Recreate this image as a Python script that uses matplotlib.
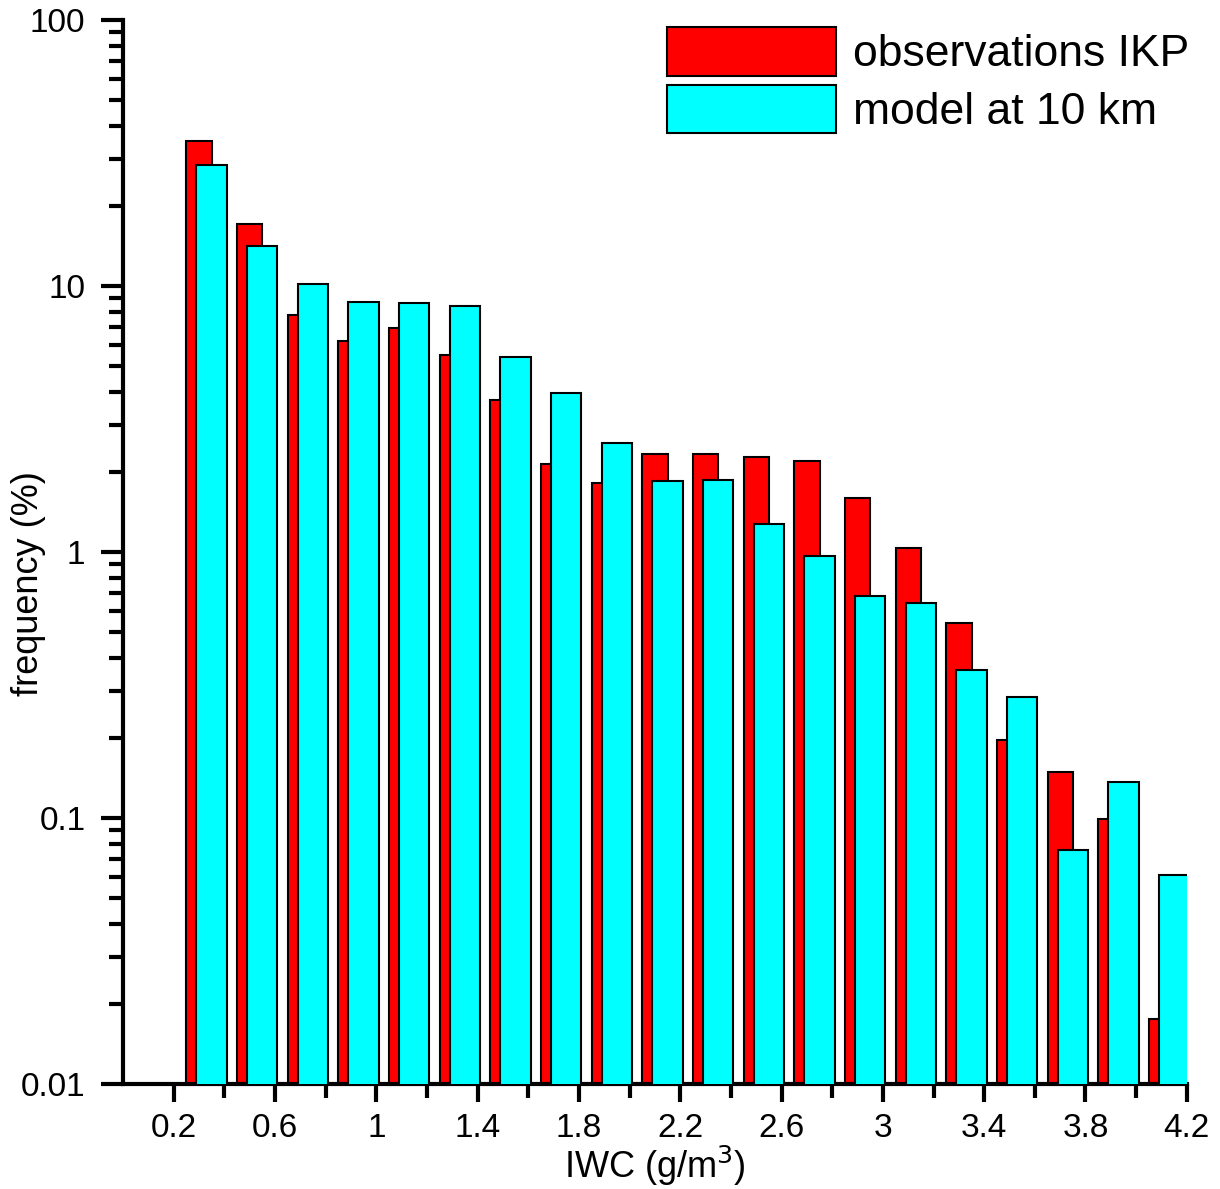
import numpy as np
import matplotlib.pyplot as plt
from matplotlib.ticker import FixedLocator, LogLocator, NullFormatter

plt.rcParams['font.family'] = ['Liberation Sans', 'DejaVu Sans']

# bin centres of IWC (g/m3), bin width 0.2
iwc = np.arange(0.3, 4.2, 0.2)

# frequency (%)
obs = [35, 17.1, 7.8, 6.2, 6.95, 5.5, 3.73, 2.14, 1.82, 2.34,
       2.34, 2.27, 2.2, 1.6, 1.03, 0.54, 0.196, 0.148, 0.098, 0.0165]
model = [28.5, 14.1, 10.2, 8.7, 8.6, 8.4, 5.4, 3.96, 2.57, 1.85,
         1.87, 1.27, 0.966, 0.68, 0.643, 0.36, 0.283, 0.075, 0.135, 0.06]

xticks = [0.2, 0.6, 1, 1.4, 1.8, 2.2, 2.6, 3, 3.4, 3.8, 4.2]
xtick_labels = ['0.2', '0.6', '1', '1.4', '1.8', '2.2', '2.6', '3', '3.4', '3.8', '4.2']
yticks = [0.01, 0.1, 1, 10, 100]
ytick_labels = ['0.01', '0.1', '1', '10', '100']

fig = plt.figure(figsize=(12.2, 11.89), dpi=100)
ax = fig.add_axes([0.1008, 0.0883, 0.872, 0.8949])

ax.bar(iwc, obs, width=0.1, bottom=1e-3, color='#ff0000', edgecolor='black',
       linewidth=1.5, label='observations IKP', zorder=2)
ax.bar(iwc + 0.05, model, width=0.12, bottom=1e-3, color='#00ffff', edgecolor='black',
       linewidth=1.5, label='model at 10 km', zorder=3)

ax.set_yscale('log')
ax.set_ylim(0.01, 100)
ax.set_xlim(0, 4.2)

ax.set_yticks(yticks)
ax.set_yticklabels(ytick_labels)
ax.yaxis.set_minor_locator(LogLocator(base=10, subs=np.arange(2, 10)))
ax.yaxis.set_minor_formatter(NullFormatter())

ax.set_xticks(xticks)
ax.set_xticklabels(xtick_labels)
ax.xaxis.set_minor_locator(FixedLocator(np.arange(0.4, 4.2, 0.4)))

for s in ['top', 'right']:
    ax.spines[s].set_visible(False)
for s in ['left', 'bottom']:
    ax.spines[s].set_linewidth(3)

ax.tick_params(axis='y', which='major', direction='out', length=16, width=3, labelsize=24, pad=11)
ax.tick_params(axis='y', which='minor', direction='out', length=10, width=3)
ax.tick_params(axis='x', which='major', direction='out', length=13, width=3, labelsize=24, pad=8)
ax.tick_params(axis='x', which='minor', direction='out', length=10, width=3)

ax.set_xlabel('IWC (g/m$^3$)', fontsize=26)
ax.set_ylabel('frequency (%)', fontsize=26)
ax.xaxis.set_label_coords(0.5, -0.056)
ax.yaxis.set_label_coords(-0.072, 0.47)

ax.legend(loc='upper right', bbox_to_anchor=(1.0235, 1.014), frameon=False, fontsize=32,
          handlelength=3.8, handleheight=1.3, handletextpad=0.4, labelspacing=0.2,
          borderaxespad=0.1)

plt.savefig('out.png', dpi=100)
